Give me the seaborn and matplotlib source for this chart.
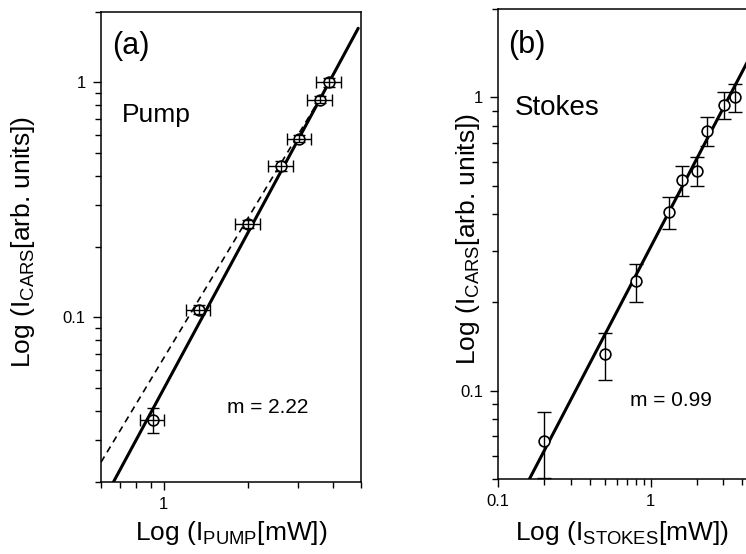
import numpy as np
import pandas as pd
import matplotlib
matplotlib.use('Agg')
import matplotlib.pyplot as plt
from matplotlib.ticker import LogLocator, NullFormatter
import seaborn as sns

# Pump power dependence, panel (a)
pump_x = [0.917, 1.33, 1.99, 2.61, 3.03, 3.59, 3.87]
pump_y = [0.0367, 0.108, 0.25, 0.44, 0.577, 0.845, 1.0]
pump_xerr = [0.09, 0.13, 0.2, 0.26, 0.3, 0.36, 0.39]
pump_yerr = [0.0045, 0.005, 0.01, 0.022, 0.02, 0.03, 0.04]
pump_fit_x = [0.662, 4.9]
pump_fit_y = [0.0198, 1.70]
pump_quad_x = [0.6, 3.86]
pump_quad_y = [0.0242, 0.99]

# Stokes power dependence, panel (b)
stokes_x = [0.2, 0.5, 0.8, 1.32, 1.6, 2.0, 2.33, 3.02, 3.58]
stokes_y = [0.0673, 0.133, 0.236, 0.407, 0.522, 0.562, 0.769, 0.941, 1.0]
stokes_yerr = [0.017, 0.024, 0.035, 0.05, 0.06, 0.063, 0.085, 0.1, 0.11]
stokes_fit_x = [0.16, 5.0]
stokes_fit_y = [0.05, 1.53]

sns.set_style('ticks')
plt.rcParams['font.family'] = ['Liberation Sans', 'DejaVu Sans']
plt.rcParams['mathtext.fontset'] = 'custom'
plt.rcParams['mathtext.rm'] = 'Liberation Sans'
plt.rcParams['mathtext.it'] = 'Liberation Sans'
plt.rcParams['text.color'] = 'black'
plt.rcParams['axes.labelcolor'] = 'black'

fig = plt.figure(figsize=(7.46, 5.54), dpi=100)
ax_a = fig.add_axes([0.1354, 0.1305, 0.3481, 0.8484])
ax_b = fig.add_axes([0.668, 0.1354, 0.347, 0.8484])


def style_axis(ax, xlim, ylim, xticks, xlabels, yticks, ylabels):
    ax.set_xscale('log')
    ax.set_yscale('log')
    ax.set_xlim(*xlim)
    ax.set_ylim(*ylim)
    ax.set_xticks(xticks)
    ax.set_xticklabels(xlabels)
    ax.set_yticks(yticks)
    ax.set_yticklabels(ylabels)
    ax.xaxis.set_minor_locator(LogLocator(base=10, subs=np.arange(2, 10), numticks=20))
    ax.yaxis.set_minor_locator(LogLocator(base=10, subs=np.arange(2, 10), numticks=20))
    ax.xaxis.set_minor_formatter(NullFormatter())
    ax.yaxis.set_minor_formatter(NullFormatter())
    ax.tick_params(which='major', direction='out', length=6, width=1, labelsize=12,
                   pad=5, colors='black')
    ax.tick_params(which='minor', direction='out', length=4, width=1, colors='black')
    for sp in ax.spines.values():
        sp.set_visible(True)
        sp.set_linewidth(1.1)
        sp.set_color('black')


# ---- panel (a)
ax = ax_a
style_axis(ax, (0.6, 5), (0.02, 2), [1], ['1'], [0.1, 1], ['0.1', '1'])
df_fit = pd.DataFrame({'x': pump_fit_x, 'y': pump_fit_y})
sns.lineplot(data=df_fit, x='x', y='y', ax=ax, color='black', lw=2.2, estimator=None, sort=False, zorder=1)
df_quad = pd.DataFrame({'x': pump_quad_x, 'y': pump_quad_y})
sns.lineplot(data=df_quad, x='x', y='y', ax=ax, color='black', lw=1.2, linestyle=(0, (4, 3)),
             estimator=None, sort=False, zorder=1)
sns.scatterplot(x=pump_x, y=pump_y, ax=ax, s=60, color='white', edgecolor='black', linewidth=1.2, zorder=3)
ax.errorbar(pump_x, pump_y, xerr=pump_xerr, yerr=pump_yerr, fmt='none', ecolor='black',
            elinewidth=1, capsize=4.5, capthick=1, zorder=4)
ax.text(0.041, 0.927, '(a)', transform=ax.transAxes, fontsize=22, va='center', ha='left')
ax.text(0.080, 0.780, 'Pump', transform=ax.transAxes, fontsize=19, va='center', ha='left')
ax.text(0.484, 0.157, 'm = 2.22', transform=ax.transAxes, fontsize=15, va='center', ha='left')
ax.set_xlabel(r'Log (I$_{\mathrm{PUMP}}$[mW])', fontsize=19)
ax.set_ylabel(r'Log (I$_{\mathrm{CARS}}$[arb. units])', fontsize=19)
ax.xaxis.set_label_coords(0.5, -0.079)
ax.yaxis.set_label_coords(-0.246, 0.51)

# ---- panel (b)
ax = ax_b
style_axis(ax, (0.1, 5), (0.05, 2), [0.1, 1], ['0.1', '1'], [0.1, 1], ['0.1', '1'])
df_fit_b = pd.DataFrame({'x': stokes_fit_x, 'y': stokes_fit_y})
sns.lineplot(data=df_fit_b, x='x', y='y', ax=ax, color='black', lw=2.2, estimator=None, sort=False, zorder=1)
sns.scatterplot(x=stokes_x, y=stokes_y, ax=ax, s=60, color='white', edgecolor='black', linewidth=1.2, zorder=3)
ax.errorbar(stokes_x, stokes_y, yerr=stokes_yerr, fmt='none', ecolor='black',
            elinewidth=1, capsize=5, capthick=1, zorder=4)
ax.text(0.037, 0.924, '(b)', transform=ax.transAxes, fontsize=22, va='center', ha='left')
ax.text(0.064, 0.789, 'Stokes', transform=ax.transAxes, fontsize=20, va='center', ha='left')
ax.text(0.509, 0.167, 'm = 0.99', transform=ax.transAxes, fontsize=15, va='center', ha='left')
ax.set_xlabel(r'Log (I$_{\mathrm{STOKES}}$[mW])', fontsize=19)
ax.set_ylabel(r'Log (I$_{\mathrm{CARS}}$[arb. units])', fontsize=19)
ax.xaxis.set_label_coords(0.478, -0.085)
ax.yaxis.set_label_coords(-0.063, 0.51)

fig.savefig('out.png', dpi=100)
